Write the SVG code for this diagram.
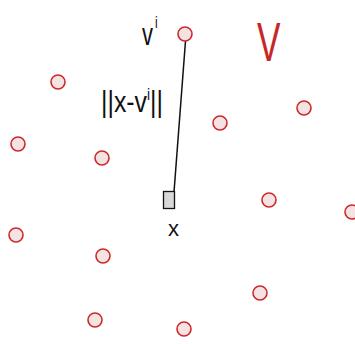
<svg xmlns="http://www.w3.org/2000/svg" width="355" height="344" viewBox="0 0 355 344">
<style>
.pt{fill:#f5e3e4;stroke:#cc2a2a;stroke-width:1.6}
.hw{font-family:"Liberation Sans",sans-serif;fill:#111}
</style>
<rect width="355" height="344" fill="#fff"/>
<g id="connectors">
<line x1="185.5" y1="41" x2="174" y2="192" stroke="#111" stroke-width="1.5"/>
</g>
<g id="points">
<circle class="pt" cx="185" cy="34" r="7"/>
<circle class="pt" cx="58" cy="82" r="7"/>
<circle class="pt" cx="220" cy="123" r="7"/>
<circle class="pt" cx="304" cy="108" r="7"/>
<circle class="pt" cx="18" cy="144" r="7"/>
<circle class="pt" cx="102" cy="158" r="7"/>
<circle class="pt" cx="269" cy="200" r="7"/>
<circle class="pt" cx="352" cy="212" r="7"/>
<circle class="pt" cx="16" cy="235" r="7"/>
<circle class="pt" cx="103" cy="256" r="7"/>
<circle class="pt" cx="260" cy="293" r="7"/>
<circle class="pt" cx="95" cy="320" r="7"/>
<circle class="pt" cx="184" cy="329" r="7"/>
</g>
<g id="query">
<rect x="163.5" y="191.5" width="11" height="17" fill="#d8d8d8" stroke="#111" stroke-width="1.3"/>
</g>
<g id="labels">
<text class="hw" font-size="22" transform="translate(142,45) scale(1,1.4)">v<tspan font-size="12" dy="-12" dx="2">i</tspan></text>
<text class="hw" font-size="20" textLength="62" lengthAdjust="spacingAndGlyphs" transform="translate(101,112) scale(1,1.5)">||x-v<tspan font-size="11" dy="-8">i</tspan><tspan dy="8">||</tspan></text>
<text class="hw" x="168" y="236" font-size="22">x</text>
<text font-family="Liberation Sans,sans-serif" font-size="32" fill="#c62828" transform="translate(257,61) scale(1.1,1.75)">V</text>
</g>
</svg>
